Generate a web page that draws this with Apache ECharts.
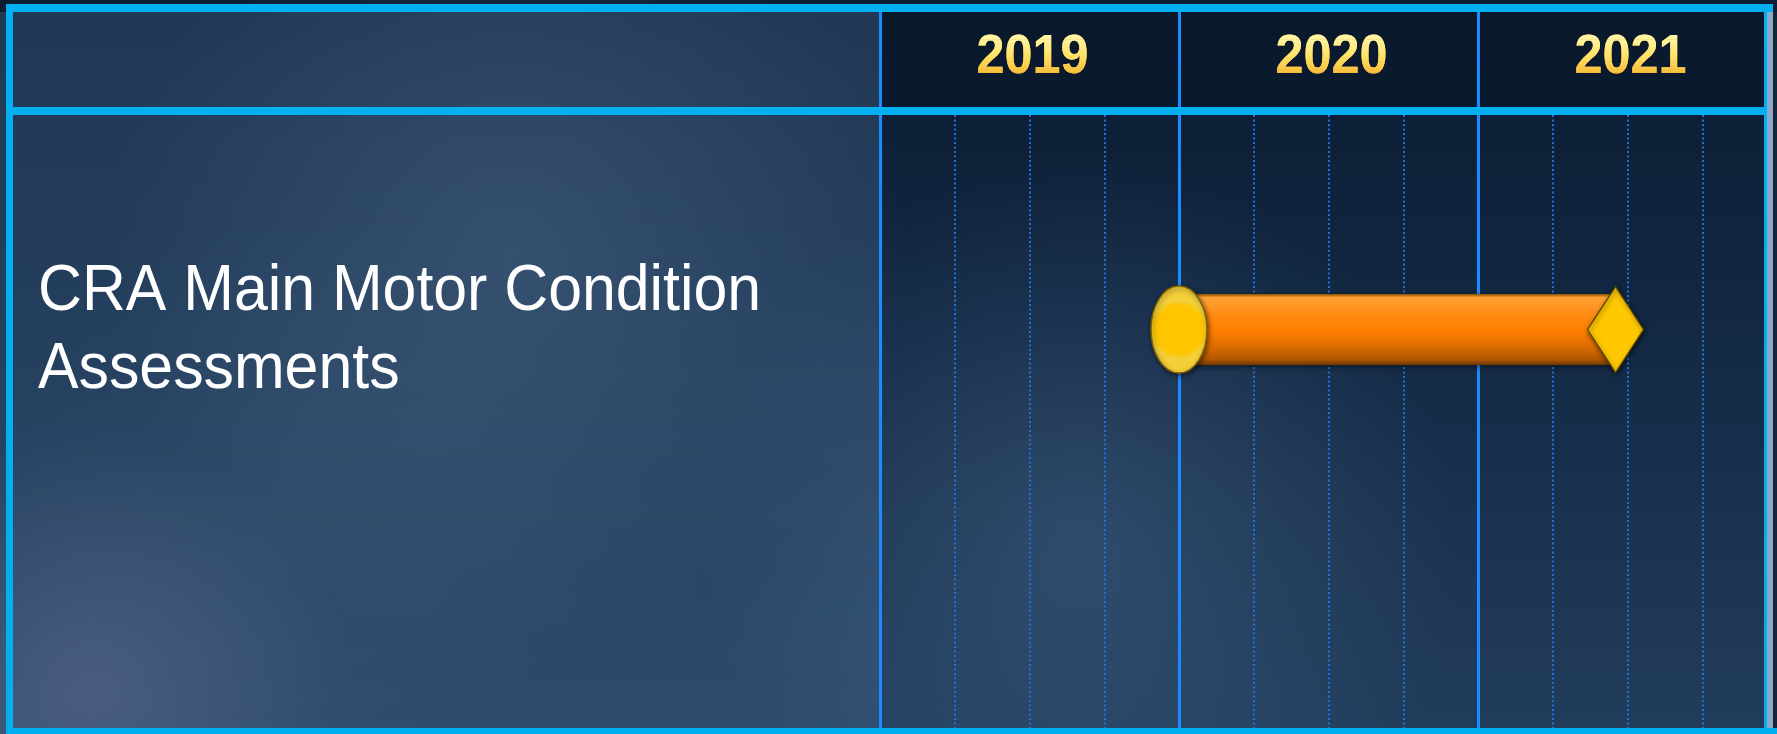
<!DOCTYPE html>
<html>
<head>
<meta charset="utf-8">
<script src="https://cdn.jsdelivr.net/npm/echarts@6/dist/echarts.min.js"></script>
<style>
html,body{margin:0;padding:0;background:#12263f;overflow:hidden;}
#c{width:1777px;height:734px;}
</style>
</head>
<body>
<div id="c"></div>
<script>
// ---- data ----
const years = ['2019', '2020', '2021'];
const yearValues = [2019, 2020, 2021];
const taskNames = ['CRA Main Motor Condition\nAssessments'];
const taskStart = [2020.0];
const taskEnd = [2021.46];

// ---- layout constants ----
const AX_MIN = 2019, AX_MAX = 2022;
const ROW_POS = 0.35;
const W = 1777, H = 734;

const chart = echarts.init(document.getElementById('c'), null, {renderer: 'canvas', width: W, height: H});
const G = echarts.graphic;

function glow(cx, cy, r, rgb, a) {
  return {
    type: 'rect', z: -100, silent: true,
    shape: {x: 0, y: 0, width: W, height: H},
    style: {fill: new G.RadialGradient(cx, cy, r, [
      {offset: 0, color: 'rgba(' + rgb + ',' + a + ')'},
      {offset: 1, color: 'rgba(' + rgb + ',0)'}
    ], true)}
  };
}

const background = [
  {type: 'rect', z: -102, silent: true, shape: {x: 0, y: 0, width: W, height: H},
   style: {fill: new G.LinearGradient(0, 0, 0, 1, [
     {offset: 0, color: '#0c1c31'}, {offset: 0.35, color: '#10253f'}, {offset: 1, color: '#223d5c'}
   ])}},
  {type: 'rect', z: -101, silent: true, shape: {x: 0, y: 12, width: 879, height: H - 12},
   style: {fill: 'rgba(62,95,132,0.42)'}},
  glow(510, 250, 400, '120,150,180', 0.22),
  glow(90, 690, 260, '140,135,175', 0.3),
  glow(1080, 540, 380, '95,130,170', 0.3),
  glow(300, 520, 300, '90,120,150', 0.12)
];

const cyan = '#00b0f0';
const borders = [
  {type: 'rect', z: 50, silent: true, shape: {x: 6, y: 4, width: 1767, height: 8}, style: {fill: cyan}},
  {type: 'rect', z: 50, silent: true, shape: {x: 13, y: 107, width: 1752, height: 8}, style: {fill: cyan}},
  {type: 'rect', z: 50, silent: true, shape: {x: 6, y: 4, width: 7, height: 730}, style: {fill: cyan}},
  {type: 'rect', z: 50, silent: true, shape: {x: 6, y: 728, width: 1771, height: 6}, style: {fill: cyan}},
  {type: 'rect', z: 50, silent: true, shape: {x: 1764, y: 4, width: 3, height: 730}, style: {fill: cyan}},
  {type: 'rect', z: 50, silent: true, shape: {x: 1767, y: 12, width: 6, height: 716}, style: {fill: '#8ea8c8'}},
  {type: 'rect', z: 50, silent: true, shape: {x: 1773, y: 12, width: 4, height: 716}, style: {fill: '#14243a'}}
];

const yearLine = {show: true, showMaxLine: false, lineStyle: {color: '#1a8cff', width: 3, type: 'solid'}};

// colour bands to fake a vertical gradient on the year labels
function mix(a, b, t) {
  const pa = [parseInt(a.slice(1, 3), 16), parseInt(a.slice(3, 5), 16), parseInt(a.slice(5, 7), 16)];
  const pb = [parseInt(b.slice(1, 3), 16), parseInt(b.slice(3, 5), 16), parseInt(b.slice(5, 7), 16)];
  return 'rgb(' + pa.map(function (v, i) { return Math.round(v + (pb[i] - v) * t); }).join(',') + ')';
}
function gradColor(t) {
  return t < 0.45 ? mix('#fff7aa', '#ffe46a', t / 0.45) : mix('#ffe46a', '#f4ae28', (t - 0.45) / 0.55);
}

const option = {
  animation: false,
  graphic: background.concat(borders),
  grid: [
    {left: 880, right: 0, top: 12, height: 95, show: true, borderWidth: 0, backgroundColor: 'rgba(4,11,24,0.25)'},
    {left: 880, right: 0, top: 115, bottom: 6}
  ],
  xAxis: [
    {gridIndex: 0, type: 'value', min: AX_MIN, max: AX_MAX, interval: 1,
     axisLine: {show: false}, axisTick: {show: false}, axisLabel: {show: false},
     splitLine: yearLine},
    {gridIndex: 1, type: 'value', min: AX_MIN, max: AX_MAX, interval: 1,
     axisLine: {show: false}, axisTick: {show: false}, axisLabel: {show: false},
     splitLine: yearLine,
     minorTick: {show: false, splitNumber: 4},
     minorSplitLine: {show: true, lineStyle: {color: '#1c72d8', width: 2, type: [2, 2.5]}}}
  ],
  yAxis: [
    {gridIndex: 0, type: 'value', min: 0, max: 1, show: false, splitLine: {show: false}},
    {gridIndex: 1, type: 'value', min: 0, max: 1, inverse: true, show: false, splitLine: {show: false}}
  ],
  series: [
    {
      type: 'custom', xAxisIndex: 0, yAxisIndex: 0, silent: true,
      data: yearValues.map(function (v) { return [v]; }),
      renderItem: function (params, api) {
        const p = api.coord([api.value(0) + 0.5, 0.5]);
        const txt = years[params.dataIndex];
        const baseStyle = {
          text: txt,
          fontFamily: '"Liberation Sans", Arial, sans-serif',
          fontWeight: 'bold', fontSize: 56,
          align: 'center', verticalAlign: 'middle'
        };
        const kids = [{
          type: 'text', x: 0, y: 0,
          style: Object.assign({}, baseStyle, {
            fill: '#f4ae28',
            shadowColor: 'rgba(0,0,0,0.85)', shadowBlur: 4, shadowOffsetX: 2, shadowOffsetY: 3
          })
        }];
        const top = -22, bottom = 22, N = 12, step = (bottom - top) / N;
        for (let i = 0; i < N; i++) {
          kids.push({
            type: 'text', x: 0, y: 0,
            style: Object.assign({}, baseStyle, {fill: gradColor((i + 0.5) / N)}),
            clipPath: {type: 'rect', shape: {x: -100, y: (i === 0 ? -60 : top + i * step), width: 200, height: (i === 0 ? 60 + top + step : step + 0.5)}}
          });
        }
        return {type: 'group', x: p[0] + 3, y: p[1] - 2, scaleX: 0.9, children: kids};
      }
    },
    {
      type: 'custom', xAxisIndex: 1, yAxisIndex: 1, silent: true,
      data: taskStart.map(function (s, i) { return [s, taskEnd[i]]; }),
      renderItem: function (params, api) {
        const s = api.coord([api.value(0), ROW_POS]);
        const e = api.coord([api.value(1), ROW_POS]);
        const cy = s[1];
        const barH = 71, rx = 28, ry = 43.5, dw = 28, dh = 43;
        return {
          type: 'group',
          children: [
            {type: 'rect', shape: {x: s[0], y: cy - barH / 2, width: e[0] - s[0], height: barH},
             style: {
               fill: new G.LinearGradient(0, 0, 0, 1, [
                 {offset: 0, color: '#8a5200'}, {offset: 0.05, color: '#ffa235'},
                 {offset: 0.3, color: '#ff8a12'}, {offset: 0.5, color: '#ff8000'},
                 {offset: 0.72, color: '#e07000'}, {offset: 0.92, color: '#b25700'},
                 {offset: 1, color: '#6e3800'}
               ]),
               shadowColor: 'rgba(0,0,0,0.5)', shadowBlur: 6, shadowOffsetY: 2
             }},
            {type: 'ellipse', shape: {cx: s[0], cy: cy, rx: rx, ry: ry},
             style: {
               fill: new G.RadialGradient(0.5, 0.5, 0.5, [
                 {offset: 0, color: '#ffc800'}, {offset: 0.85, color: '#ffc500'}, {offset: 1, color: '#f3cf3a'}
               ]),
               stroke: '#806200', lineWidth: 1.5,
               shadowColor: 'rgba(0,0,0,0.55)', shadowBlur: 5, shadowOffsetX: 1, shadowOffsetY: 2
             }},
            {type: 'polygon', shape: {points: [[e[0], cy - dh], [e[0] + dw, cy], [e[0], cy + dh], [e[0] - dw, cy]]},
             style: {
               fill: '#ffc800', stroke: '#5e4600', lineWidth: 1.2,
               shadowColor: 'rgba(0,0,0,0.6)', shadowBlur: 5, shadowOffsetX: 1, shadowOffsetY: 2
             }},
            {type: 'text', x: 38, y: cy + 2, scaleX: 0.95,
             style: {
               text: taskNames[params.dataIndex],
               fontFamily: '"Liberation Sans", Arial, sans-serif',
               fontSize: 64, lineHeight: 78,
               align: 'left', verticalAlign: 'middle',
               fill: '#ffffff',
               shadowColor: 'rgba(0,0,0,0.55)', shadowBlur: 3, shadowOffsetX: 2, shadowOffsetY: 2
             }}
          ]
        };
      }
    }
  ]
};
chart.setOption(option);
</script>
</body>
</html>
